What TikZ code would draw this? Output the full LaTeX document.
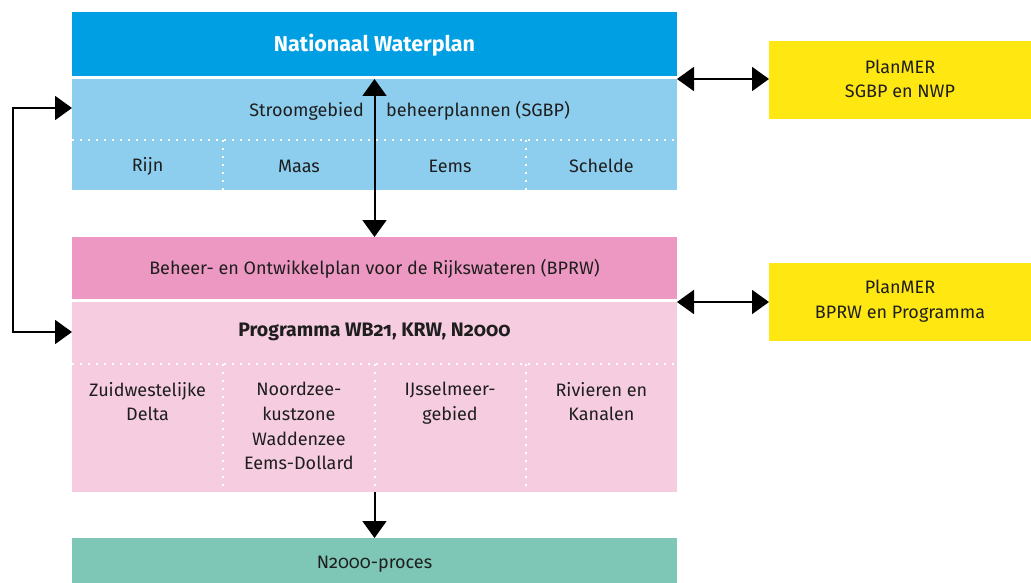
\documentclass[tikz,border=0pt]{standalone}
\usepackage{fontspec}
\setmainfont{Fira Sans}[Numbers=OldStyle]
\usetikzlibrary{arrows.meta,calc}
\definecolor{cblue}{RGB}{0,159,227}
\definecolor{clblue}{RGB}{141,206,239}
\definecolor{cpink}{RGB}{237,152,194}
\definecolor{clpink}{RGB}{246,204,224}
\definecolor{cgreen}{RGB}{126,198,181}
\definecolor{cyellow}{RGB}{255,232,18}
\definecolor{ctext}{RGB}{30,30,30}
\begin{document}
\begin{tikzpicture}[x=1pt,y=-1pt,
  box/.style={anchor=north west,inner sep=0pt,outer sep=0pt,draw=none},
  lbl/.style={text=ctext,font=\fontsize{18}{24.7}\selectfont,align=center,inner sep=0pt},
  dots/.style={white,line width=2pt,dash pattern=on 2pt off 6pt},
  con/.style={line width=2pt,black},
  dbl/.style={con,{Triangle[length=17pt,width=24pt]}-{Triangle[length=17pt,width=24pt]}},
  sgl/.style={con,-{Triangle[length=17pt,width=24pt]}}]
\useasboundingbox (0,0) rectangle (1031,583);
% boxes
\node[box,fill=cblue,minimum width=605pt,minimum height=64pt] (nwp) at (72,12) {};
\node[box,fill=clblue,minimum width=605pt,minimum height=111pt] (sgbp) at (72,79) {};
\node[box,fill=cpink,minimum width=605pt,minimum height=62pt] (bprw) at (72,237) {};
\node[box,fill=clpink,minimum width=605pt,minimum height=190pt] (prog) at (72,302) {};
\node[box,fill=cgreen,minimum width=605pt,minimum height=45pt] (n2k) at (72,538) {};
\node[box,fill=cyellow,minimum width=262pt,minimum height=78pt] (mer1) at (769,41) {};
\node[box,fill=cyellow,minimum width=262pt,minimum height=78pt] (mer2) at (769,263) {};
% dotted dividers
\draw[dots] (72,140) -- (677,140);
\foreach \x in {223.25,374.5,525.75} \draw[dots] (\x,140) -- (\x,190);
\draw[dots] (72,364) -- (677,364);
\foreach \x in {223.25,374.5,525.75} \draw[dots] (\x,364) -- (\x,492);
% texts
\node[lbl,text=white,font=\fontsize{21.5}{25}\selectfont\bfseries] (t1) at (374.5,45) {Nationaal Waterplan};
\node[lbl,anchor=east] (t2a) at (364,111) {Stroomgebied};
\node[lbl,anchor=west] (t2b) at (386,111) {beheerplannen (SGBP)};
\node[lbl] (r1) at (147.6,166) {Rijn};
\node[lbl] (r2) at (298.9,166) {Maas};
\node[lbl] (r3) at (450.1,166) {Eems};
\node[lbl] (r4) at (601.4,166) {Schelde};
\node[lbl] (t3) at (374.5,269) {Beheer- en Ontwikkelplan voor de Rijkswateren (BPRW)};
\node[lbl,font=\fontsize{19.5}{25}\selectfont\bfseries] (t4) at (374.5,332) {Programma WB21, KRW, N2000};
\node[lbl,anchor=north] (p1) at (147.6,382) {Zuidwestelijke\\Delta};
\node[lbl,anchor=north] (p2) at (298.9,382) {Noordzee-\\kustzone\\Waddenzee\\Eems-Dollard};
\node[lbl,anchor=north] (p3) at (450.1,382) {IJsselmeer-\\gebied};
\node[lbl,anchor=north] (p4) at (601.4,382) {Rivieren en\\Kanalen};
\node[lbl] (t5) at (374.5,564) {N2000-proces};
\node[lbl] (m1) at ($(mer1.center)+(0,-1)$) {PlanMER\\SGBP en NWP};
\node[lbl] (m2) at ($(mer2.center)+(0,-1)$) {PlanMER\\BPRW en Programma};
% connectors
\draw[dbl] (sgbp.north) -- (bprw.north);
\draw[dbl] (sgbp.north east) -- (sgbp.north east -| mer1.west);
\draw[dbl] (prog.north east) -- (prog.north east -| mer2.west);
\draw[sgl] (prog.south) -- (n2k.north);
\coordinate (la) at (sgbp.west |- 0,108);
\coordinate (lb) at (prog.west |- 0,332);
\draw[dbl] (la) -- (13,108) -- (13,332) -- (lb);
\end{tikzpicture}
\end{document}
